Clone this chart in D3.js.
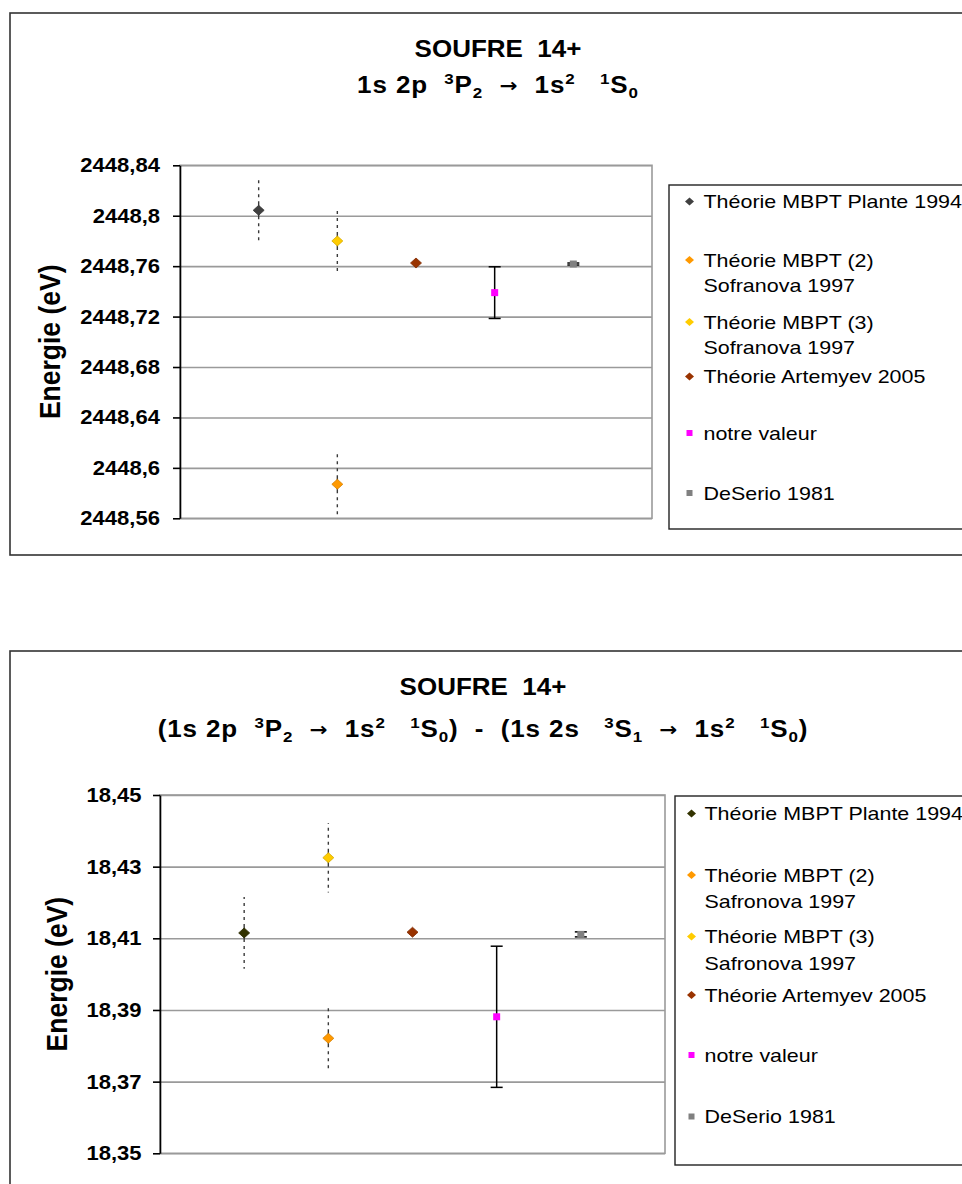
<!DOCTYPE html>
<html><head><meta charset="utf-8">
<script src="https://cdn.jsdelivr.net/npm/d3@7"></script>
<style>
body{margin:0;background:#fff}
svg{display:block}
text{font-family:"Liberation Sans",Arial,sans-serif;fill:#000;white-space:pre}
</style>
</head><body>
<svg id="c" width="962" height="1184"></svg>
<script>
// ---------- DATA ----------
const xPos = [1, 2, 2, 3, 4, 5];               // category slot of each series
const markerShapes = ["diamond", "diamond", "diamond", "diamond", "square", "square"];
const errorStyles = ["dashed", "dashed", "dashed", "none", "capped", "capped"];

const topColors = ["#404040", "#FF9900", "#FFCC00", "#993300", "#FF00FF", "#808080"];
const topLabels = [["Théorie MBPT Plante 1994"], ["Théorie MBPT (2)", "Sofranova 1997"], ["Théorie MBPT (3)", "Sofranova 1997"], ["Théorie Artemyev 2005"], ["notre valeur"], ["DeSerio 1981"]];
const topValues = [2448.8043, 2448.587, 2448.780, 2448.7625, 2448.739, 2448.7617];
const topErrors = [0.027, 0.026, 0.027, 0, 0.0205, 0.0008];
const topTicks = [2448.56, 2448.60, 2448.64, 2448.68, 2448.72, 2448.76, 2448.80, 2448.84];
const topTickLabels = ["2448,56", "2448,6", "2448,64", "2448,68", "2448,72", "2448,76", "2448,8", "2448,84"];
const topTitle = "SOUFRE  14+";
const topSubtitle = [["1s 2p  ", ""], ["3", "sup"], ["P", ""], ["2", "sub"], ["  ", ""], ["\u2192", "arrow"], ["  1s", ""], ["2", "sup"], ["   ", ""], ["1", "sup"], ["S", ""], ["0", "sub"]];

const botColors = ["#333300", "#FF9900", "#FFCC00", "#993300", "#FF00FF", "#808080"];
const botLabels = [["Théorie MBPT Plante 1994"], ["Théorie MBPT (2)", "Safronova 1997"], ["Théorie MBPT (3)", "Safronova 1997"], ["Théorie Artemyev 2005"], ["notre valeur"], ["DeSerio 1981"]];
const botValues = [18.4115, 18.3821, 18.4325, 18.4117, 18.3881, 18.4111];
const botErrors = [0.0100, 0.0095, 0.0097, 0, 0.0197, 0.0007];
const botTicks = [18.35, 18.37, 18.39, 18.41, 18.43, 18.45];
const botTickLabels = ["18,35", "18,37", "18,39", "18,41", "18,43", "18,45"];
const botTitle = "SOUFRE  14+";
const botSubtitle = [["(1s 2p  ", ""], ["3", "sup"], ["P", ""], ["2", "sub"], ["  ", ""], ["\u2192", "arrow"], ["  1s", ""], ["2", "sup"], ["   ", ""], ["1", "sup"], ["S", ""], ["0", "sub"],
  [")  -  (1s 2s   ", ""], ["3", "sup"], ["S", ""], ["1", "sub"], ["  ", ""], ["\u2192", "arrow"], ["  1s", ""], ["2", "sup"], ["   ", ""], ["1", "sup"], ["S", ""], ["0", "sub"], [")", ""]];
const yAxisTitle = "Energie (eV)";

// ---------- LAYOUT ----------
const SX = 1.13; // horizontal stretch of the original rendering
const svg = d3.select("#c");

function stext(g, x, y, str, size, weight, anchor) {
  return g.append("text")
    .attr("transform", `translate(${x},${y}) scale(${SX},1)`)
    .attr("text-anchor", anchor || "start")
    .attr("font-size", size)
    .attr("font-weight", weight || "normal")
    .attr("dy", "0.36em")
    .text(str);
}

function drawChart(cfg) {
  const g = svg.append("g");
  // outer frame
  g.append("rect").attr("x", cfg.frame.x).attr("y", cfg.frame.y)
    .attr("width", 1100).attr("height", cfg.frame.h)
    .attr("fill", "none").attr("stroke", "#333").attr("stroke-width", 1.6);

  // titles
  g.append("text")
    .attr("transform", `translate(${cfg.cx},${cfg.titleY}) scale(${SX},1)`)
    .attr("text-anchor", "middle").attr("font-size", 23).attr("font-weight", "bold")
    .text(cfg.title);
  const st = g.append("text")
    .attr("transform", `translate(${cfg.cx},${cfg.subY}) scale(${SX},1)`)
    .attr("text-anchor", "middle").attr("font-size", 23).attr("font-weight", "bold")
    .attr("letter-spacing", 0.8)
    .attr("xml:space", "preserve");
  let shift = 0;
  cfg.subtitle.forEach(([t, k]) => {
    const ts = st.append("tspan").text(t);
    let target = 0;
    if (k === "sup") { ts.attr("font-size", 15); target = -9; }
    else if (k === "sub") { ts.attr("font-size", 15); target = 5; }
    else if (k === "arrow") { ts.attr("font-family", "DejaVu Sans").attr("font-size", 19); target = -1; }
    ts.attr("dy", target - shift);
    shift = target;
  });

  const x = d3.scaleLinear().domain([0, 6]).range([cfg.plot.x0, cfg.plot.x1]);
  const y = d3.scaleLinear().domain(cfg.domain).range([cfg.plot.y1, cfg.plot.y0]);

  // plot border
  g.append("rect").attr("x", cfg.plot.x0).attr("y", cfg.plot.y0)
    .attr("width", cfg.plot.x1 - cfg.plot.x0).attr("height", cfg.plot.y1 - cfg.plot.y0)
    .attr("fill", "none").attr("stroke", "#9a9a9a").attr("stroke-width", 1.6);

  // gridlines
  const grid = g.append("g").attr("transform", `translate(${cfg.plot.x0},0)`)
    .call(d3.axisLeft(y).tickValues(cfg.ticks).tickSize(-(cfg.plot.x1 - cfg.plot.x0)).tickFormat(""));
  grid.select(".domain").remove();
  grid.selectAll("line").attr("stroke", "#9a9a9a").attr("stroke-width", 1.6);

  // axis
  const ax = g.append("g").attr("transform", `translate(${cfg.plot.x0},0)`)
    .call(d3.axisLeft(y).tickValues(cfg.ticks).tickSize(7).tickSizeOuter(0).tickFormat(""));
  ax.select(".domain").attr("stroke", "#000").attr("stroke-width", 1.6);
  ax.selectAll("line").attr("stroke", "#000").attr("stroke-width", 1.6);
  cfg.ticks.forEach((t, i) => {
    stext(g, cfg.plot.x0 - cfg.labelGap, y(t), cfg.tickLabels[i], 19.5, "bold", "end");
  });

  // y axis title
  g.append("text")
    .attr("transform", `translate(${cfg.yTitleX},${(cfg.plot.y0 + cfg.plot.y1) / 2}) scale(${SX},1) rotate(-90)`)
    .attr("text-anchor", "middle").attr("font-size", 26.5).attr("font-weight", "bold")
    .attr("dy", "0.36em").text(yAxisTitle);

  // error bars
  const eb = g.append("g");
  cfg.values.forEach((v, i) => {
    const e = cfg.errors[i];
    if (errorStyles[i] === "none" || e === 0) return;
    const cx = x(xPos[i]);
    if (errorStyles[i] === "dashed") {
      [v + e, v - e].forEach(end => {
        eb.append("line").attr("x1", cx).attr("x2", cx).attr("y1", y(v)).attr("y2", y(end))
          .attr("stroke", "#3a3a3a").attr("stroke-width", 1.4)
          .attr("stroke-dasharray", "9,4,3,4,3,4,3,4,3,4,3,4,3,4,3,4,3,4,3,4,3,4");
      });
    } else {
      eb.append("line").attr("x1", cx).attr("x2", cx).attr("y1", y(v + e)).attr("y2", y(v - e))
        .attr("stroke", "#000").attr("stroke-width", 1.5);
      [v + e, v - e].forEach(end => {
        eb.append("line").attr("x1", cx - 6).attr("x2", cx + 6).attr("y1", y(end)).attr("y2", y(end))
          .attr("stroke", "#000").attr("stroke-width", 1.5);
      });
    }
  });

  // markers
  const mk = g.append("g");
  cfg.values.forEach((v, i) => {
    const cx = x(xPos[i]), cy = y(v);
    if (markerShapes[i] === "diamond") {
      mk.append("path").attr("d", `M${cx},${cy - 5}L${cx + 5.5},${cy}L${cx},${cy + 5}L${cx - 5.5},${cy}Z`)
        .attr("fill", cfg.colors[i]).attr("stroke", d3.color(cfg.colors[i]).darker(0.5)).attr("stroke-width", 0.8);
    } else {
      mk.append("rect").attr("x", cx - 3.5).attr("y", cy - 3.5).attr("width", 7).attr("height", 7)
        .attr("fill", cfg.colors[i]);
    }
  });

  // legend
  const L = cfg.legend;
  g.append("rect").attr("x", L.x).attr("y", L.y).attr("width", 500).attr("height", L.h)
    .attr("fill", "#fff").attr("stroke", "#222").attr("stroke-width", 1.4);
  cfg.labels.forEach((lines, i) => {
    const ly = L.rows[i];
    if (markerShapes[i] === "diamond") {
      g.append("path").attr("d", `M${L.mx},${ly - 4}L${L.mx + 4.5},${ly}L${L.mx},${ly + 4}L${L.mx - 4.5},${ly}Z`)
        .attr("fill", cfg.colors[i]);
    } else {
      g.append("rect").attr("x", L.mx - 3).attr("y", ly - 3).attr("width", 6).attr("height", 6)
        .attr("fill", cfg.colors[i]);
    }
    lines.forEach((ln, j) => stext(g, L.tx, ly + j * L.lineH, ln, 19, "normal", "start"));
  });
}

drawChart({
  frame: {x: 10, y: 13, h: 542},
  cx: 498, titleY: 56.5, subY: 93,
  title: topTitle, subtitle: topSubtitle,
  plot: {x0: 180, x1: 652, y0: 165.3, y1: 518.3},
  domain: [2448.56, 2448.84], ticks: topTicks, tickLabels: topTickLabels, labelGap: 20,
  yTitleX: 49,
  values: topValues, errors: topErrors, colors: topColors, labels: topLabels,
  legend: {x: 669, y: 185, h: 344, mx: 689.5, tx: 703.5, lineH: 25.5,
           rows: [201.5, 260, 322, 376.5, 433, 493]}
});

drawChart({
  frame: {x: 10, y: 651, h: 600},
  cx: 483, titleY: 695, subY: 737,
  title: botTitle, subtitle: botSubtitle,
  plot: {x0: 160, x1: 665, y0: 795, y1: 1153.3},
  domain: [18.35, 18.45], ticks: botTicks, tickLabels: botTickLabels, labelGap: 18.5,
  yTitleX: 56,
  values: botValues, errors: botErrors, colors: botColors, labels: botLabels,
  legend: {x: 675, y: 796, h: 369, mx: 691.5, tx: 704.5, lineH: 26.5,
           rows: [813.5, 875, 936.5, 995, 1055, 1116.5]}
});
</script>
</body></html>
